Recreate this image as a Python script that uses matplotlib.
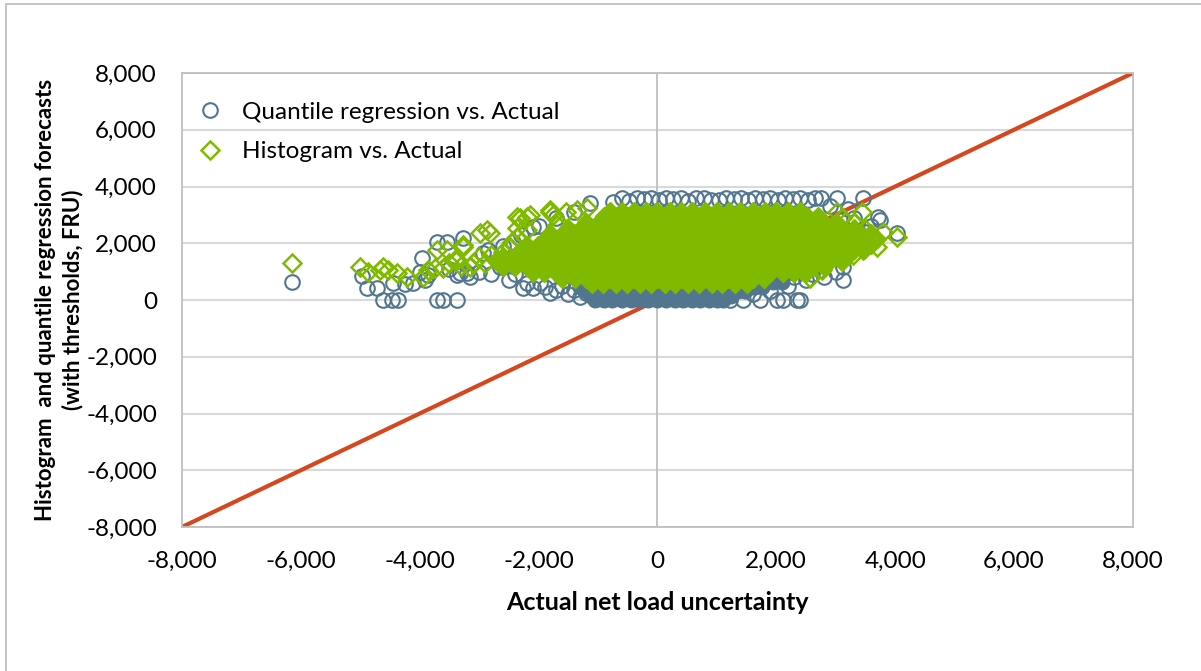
import matplotlib.pyplot as plt
from matplotlib.patches import Rectangle
from matplotlib.ticker import FuncFormatter

plt.rcParams['font.family'] = ['Lato', 'DejaVu Sans']

# quantile regression forecasts vs actual (scattered points)
qr_x = [-6150, -4970, -4890, -4720, -4610, -4460, -4360, -4450, -4250, -4110,
        -3910, -3960, -4000, -3860, -3710, -3610, -3380, -3710, -3540, -3270,
        -3380, -3150, -3320, -3200, -2930, -2850, -2650, -2260, -2090, -1810,
        -1980, -2090, -1130, -750, -2430, -2600, -2300, -2000, -1700, -1400,
        -3500, -3000, -2800, -2500, -2400, -2200, -1900, -1700, -1600, -1500,
        -1400, -1300, -1200,
        -600, -480, -350, -220, -100, 20, 150, 260, 400, 520, 650, 780, 900,
        1030, 1150, 1280, 1400, 1530, 1650, 1780, 1900, 2030, 2150, 2280, 2400,
        2530, 2650, 2760,
        3020, 3460, 3120, 3120, 3710, 3740, 4030, 2730, 3600, 3500, 3300, 3200,
        2900, 1220, 1440, 1730, 2010, 2120, 2400, 2350, 1600, 1900, 2200, 2500,
        2800, 1800, 2300, 3000, 1400, 2600]
qr_y = [640, 850, 420, 420, 0, 0, 0, 600, 560, 600,
        700, 1480, 990, 880, 0, 0, 0, 2040, 2040, 2180,
        880, 810, 950, 950, 1660, 1760, 1160, 420, 420, 250,
        600, 2570, 3420, 3450, 2040, 1900, 2300, 2600, 2900, 3100,
        1100, 1000, 900, 700, 900, 600, 450, 350, 500, 200,
        350, 100, 250,
        3580, 3500, 3600, 3550, 3600, 3520, 3600, 3560, 3600, 3500, 3580, 3600, 3540,
        3530, 3600, 3570, 3600, 3510, 3600, 3560, 3600, 3540, 3600, 3570, 3600,
        3520, 3600, 3580,
        3590, 3590, 700, 1160, 2920, 2820, 2360, 1060, 2600, 2400, 2900, 3200,
        3300, 0, 0, 0, 0, 0, 0, 0, 200, 300, 500, 700,
        800, 600, 800, 1000, 450, 900]

# dense band of quantile regression points near zero forecast
qr_core_y = [0, 150, 300, 450, 650]
qr_core_x = [
    [-1050, -900, -760, -600, -450, -310, -160, 0, 140, 290, 430, 580, 720, 870, 1000, 1100],
    [-1120, -980, -830, -680, -530, -380, -230, -80, 70, 220, 370, 510, 660, 800, 950, 1090, 1230],
    [-1200, -1050, -900, -750, -600, -450, -300, -150, 0, 150, 300, 450, 600, 750, 900, 1050, 1200, 1350, 1480],
    [-1300, -1130, -960, -800, -640, -480, -320, -160, 0, 160, 320, 480, 640, 800, 960, 1120, 1280, 1440, 1600, 1760],
    [1500, 1650, 1800, 1950, 2100],
]

# histogram forecasts vs actual (scattered points)
hist_x = [-6150, -5000, -4870, -4670, -4610, -4530, -4380, -4210, -3950, -3860,
          -3740, -3610, -3710, -3540, -3270, -3380, -3100, -2990, -3270, -2870,
          -2820, -2360, -2200, -1810, -1530, -1190, -3400, -3150, -2480, -2360,
          -2200, -1690, -2310, -2140, -1810, -1360, -1750, -2360, -2450,
          -3500, -3300, -3000, -2900, -2800, -2700, -2600,
          3440, 3020, 3690, 3460, 3290, 4030, 2770, 2570, 3800, 3600, 3500,
          3300, 3100]
hist_y = [1300, 1160, 990, 1060, 1160, 1060, 950, 810, 810, 1060,
          1130, 1130, 1760, 1760, 1940, 1410, 1300, 2360, 1870, 2470,
          2360, 2920, 2920, 3100, 3100, 3240, 1410, 1160, 1870, 2220,
          2470, 2640, 2880, 3000, 3170, 3170, 3000, 2530, 2040,
          1300, 1200, 1500, 1300, 1600, 1400, 1700,
          3100, 3100, 1870, 1760, 1590, 2220, 1060, 770, 2400, 2200, 2500,
          2700, 2900]

# dense cloud of histogram points, one list of x values per forecast level
hist_core_y = [550, 750, 950, 1150, 1350, 1550, 1750, 1950, 2150, 2350, 2550,
               2750, 2950, 3150]
hist_core_x = [
    [-1100, -920, -700, -510, -290, -100, 120, 290, 510, 700, 910, 1080, 1300, 1500],
    [-1600, -1390, -1210, -980, -800, -610, -390, -200, 10, 190, 420, 600, 790, 1010,
     1200, 1390, 1610, 1800],
    [-2100, -1910, -1700, -1490, -1300, -1110, -890, -700, -520, -290, -100, 110, 300,
     490, 710, 890, 1100, 1300, 1510, 1690, 1900, 2110, 2290, 2500],
    [-2600, -2390, -2200, -2010, -1800, -1590, -1400, -1210, -990, -800, -610, -400,
     -190, 0, 210, 400, 590, 800, 1010, 1200, 1390, 1600, 1810, 2000, 2190, 2400,
     2610, 2800],
    [-2700, -2510, -2290, -2100, -1900, -1690, -1510, -1300, -1090, -900, -710, -500,
     -290, -100, 110, 300, 490, 700, 910, 1100, 1290, 1500, 1710, 1900, 2090, 2300,
     2510, 2700, 2890, 3100],
    [-2600, -2390, -2200, -2010, -1800, -1590, -1400, -1210, -990, -800, -610, -400,
     -190, 0, 210, 400, 590, 800, 1010, 1200, 1390, 1600, 1810, 2000, 2190, 2400,
     2610, 2800, 2990, 3200],
    [-2300, -2090, -1900, -1710, -1500, -1290, -1100, -910, -700, -490, -300, -110, 100,
     310, 500, 690, 900, 1110, 1300, 1490, 1700, 1910, 2100, 2290, 2500, 2710, 2900,
     3090, 3300, 3480],
    [-2200, -2010, -1800, -1590, -1400, -1210, -990, -800, -610, -400, -190, 0, 210,
     400, 590, 800, 1010, 1200, 1390, 1600, 1810, 2000, 2190, 2400, 2610, 2800, 2990,
     3200, 3400, 3600],
    [-1900, -1710, -1500, -1290, -1100, -910, -700, -490, -300, -110, 100, 310, 500,
     690, 900, 1110, 1300, 1490, 1700, 1910, 2100, 2290, 2500, 2710, 2900, 3090, 3300,
     3510, 3700],
    [-1800, -1590, -1400, -1210, -990, -800, -610, -400, -190, 0, 210, 400, 590, 800,
     1010, 1200, 1390, 1600, 1810, 2000, 2190, 2400, 2610, 2800, 2990, 3200, 3410, 3600],
    [-1500, -1290, -1100, -910, -700, -490, -300, -110, 100, 310, 500, 690, 900, 1110,
     1300, 1490, 1700, 1910, 2100, 2290, 2500, 2710, 2900, 3100, 3300],
    [-1200, -990, -800, -610, -400, -190, 0, 210, 400, 590, 800, 1010, 1200, 1390,
     1600, 1810, 2000, 2190, 2400, 2610, 2800, 3000],
    [-900, -710, -500, -290, -100, 110, 300, 490, 700, 910, 1100, 1290, 1500, 1710,
     1900, 2090, 2300, 2510, 2700],
    [-800, -590, -400, -190, 0, 210, 400, 590, 800, 1010, 1200, 1390, 1600, 1810,
     2000, 2190, 2400],
]

diag = [-8000, 8000]
ticks = [-8000, -6000, -4000, -2000, 0, 2000, 4000, 6000, 8000]

blue = '#52768F'
green = '#80BA00'

fig = plt.figure(figsize=(12.01, 6.71), dpi=100)
ax = fig.add_axes([0.1515, 0.2146, 0.7918, 0.6766])

fig.patches.append(Rectangle((6 / 1201, -0.1), 1.2, 1.1 - 4 / 671,
                             transform=fig.transFigure, fill=False,
                             edgecolor='#BFBFBF', linewidth=1.3))

ax.set_xlim(-8000, 8000)
ax.set_ylim(-8000, 8000)
ax.set_xticks(ticks)
ax.set_yticks(ticks)
fmt = FuncFormatter(lambda v, p: f'{int(v):,}')
ax.xaxis.set_major_formatter(fmt)
ax.yaxis.set_major_formatter(fmt)
ax.tick_params(length=0, labelsize=17.5, colors='#000000')
ax.tick_params(axis='x', pad=17)
ax.tick_params(axis='y', pad=18)
ax.grid(axis='y', color='#D9D9D9', linewidth=1.5, zorder=0)
ax.set_axisbelow(True)
for s in ax.spines.values():
    s.set_color('#BFBFBF')
    s.set_linewidth(1.3)
ax.axvline(0, color='#BFBFBF', linewidth=1.3, zorder=1)

ax.plot(diag, diag, color='#D5481F', linewidth=3, zorder=2, solid_capstyle='butt')

# quantile regression points
ax.plot(qr_x, qr_y, linestyle='none', marker='o', markersize=10.5,
        markerfacecolor='none', markeredgecolor=blue, markeredgewidth=1.5,
        zorder=3, label='Quantile regression vs. Actual')
for y, xs in zip(qr_core_y, qr_core_x):
    ax.plot(xs, [y] * len(xs), linestyle='none', marker='o', markersize=10.5,
            color=blue, zorder=3)

# histogram points
for y, xs in zip(hist_core_y, hist_core_x):
    ax.plot(xs, [y] * len(xs), linestyle='none', marker='D', markersize=9.5,
            color=green, zorder=4)
ax.plot(hist_x, hist_y, linestyle='none', marker='D', markersize=9.5,
        markerfacecolor='none', markeredgecolor=green, markeredgewidth=1.8,
        zorder=4, label='Histogram vs. Actual')

ax.set_xlabel('Actual net load uncertainty', fontsize=18, fontweight='bold',
              labelpad=14)
ax.set_ylabel('Histogram  and quantile regression forecasts\n(with thresholds, FRU)',
              fontsize=16, fontweight='bold', labelpad=2, linespacing=1.3)

ax.legend(loc='upper left', bbox_to_anchor=(0.0066, 0.958), frameon=False,
          fontsize=17.5, handletextpad=0.8, borderaxespad=0, labelspacing=0.75,
          handlelength=1.0)

fig.savefig('out.png', dpi=100)
